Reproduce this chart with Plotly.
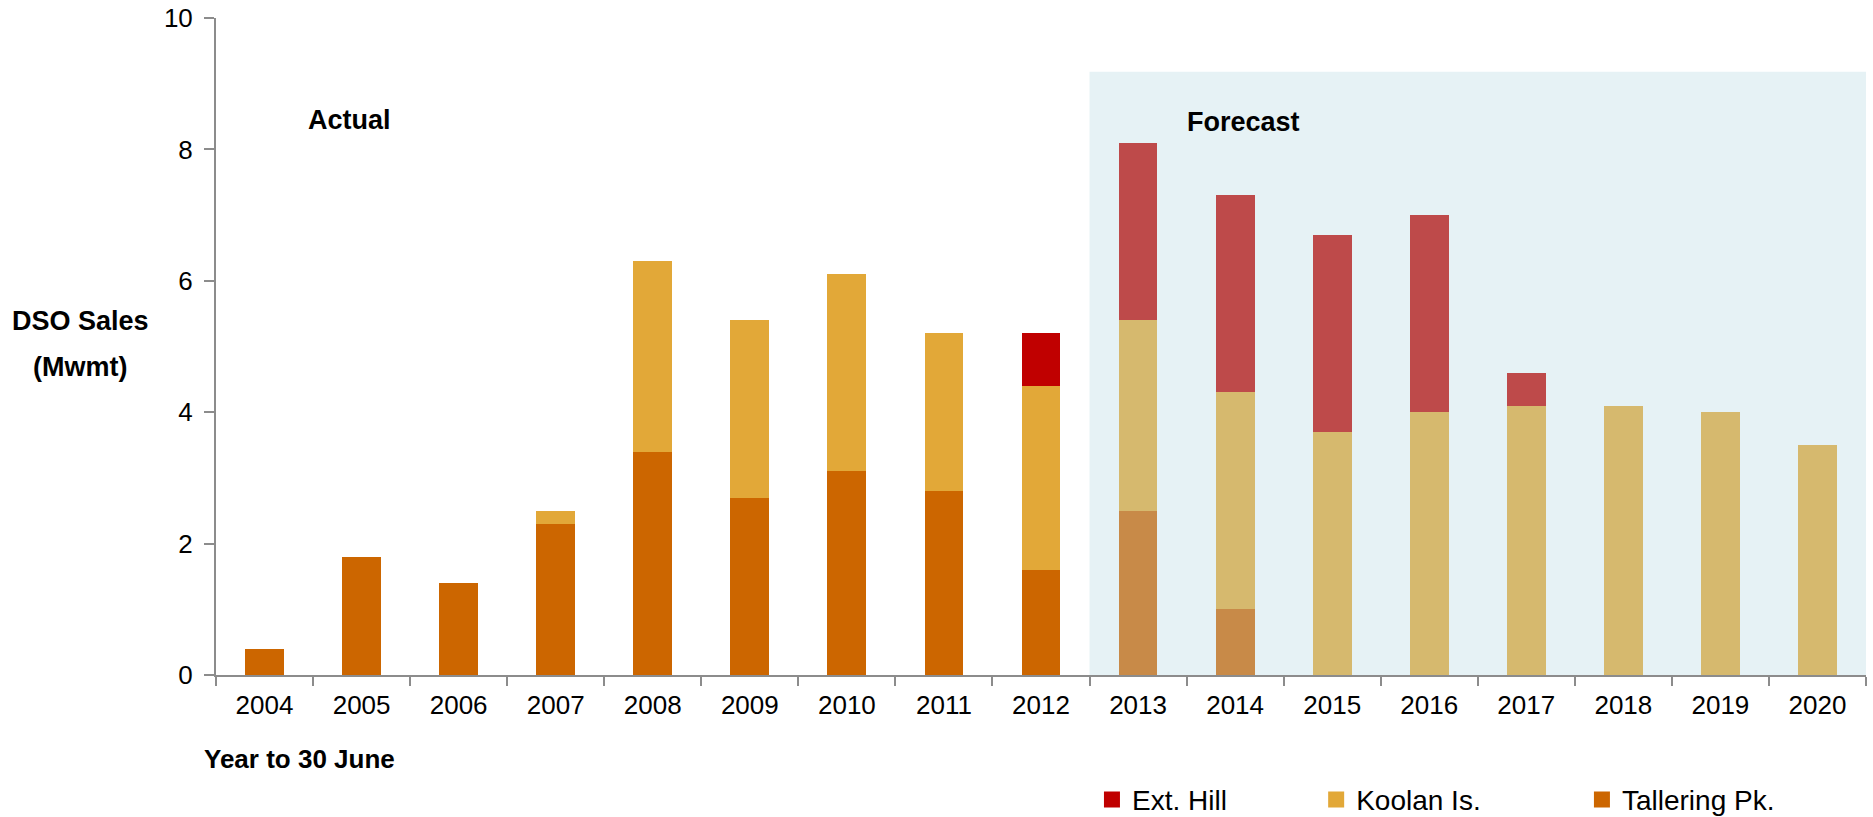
import plotly.graph_objects as go

years = ["2004", "2005", "2006", "2007", "2008", "2009", "2010", "2011", "2012",
         "2013", "2014", "2015", "2016", "2017", "2018", "2019", "2020"]
tallering = [0.4, 1.8, 1.4, 2.3, 3.4, 2.7, 3.1, 2.8, 1.6, 2.5, 1.0, 0, 0, 0, 0, 0, 0]
koolan = [0, 0, 0, 0.2, 2.9, 2.7, 3.0, 2.4, 2.8, 2.9, 3.3, 3.7, 4.0, 4.1, 4.1, 4.0, 3.5]
ext_hill = [0, 0, 0, 0, 0, 0, 0, 0, 0.8, 2.7, 3.0, 3.0, 3.0, 0.5, 0, 0, 0]
forecast_start = "2013"

FONT = "Liberation Sans, Arial, sans-serif"
n_actual = years.index(forecast_start)

def colors(actual, fcst):
    return [actual if i < n_actual else fcst for i in range(len(years))]

def f(size, bold=False):
    return dict(family=FONT, size=size, color="black",
                weight="bold" if bold else "normal")

fig = go.Figure()
series = [
    ("Tallering Pk.", tallering, "#CC6600", "#C88A48", "legend3"),
    ("Koolan Is.", koolan, "#E2A838", "#D6B96E", "legend2"),
    ("Ext. Hill", ext_hill, "#C00000", "#BE4A4A", "legend"),
]
for name, vals, ca, cf, lg in series:
    fig.add_trace(go.Bar(
        x=years, y=vals, name=name,
        marker=dict(color=colors(ca, cf), line=dict(width=0)),
        showlegend=False,
    ))
    fig.add_trace(go.Scatter(
        x=[None], y=[None], mode="markers", name=name,
        marker=dict(symbol="square", size=16, color=ca),
        legend=lg, showlegend=True,
    ))

fig.add_shape(type="rect", xref="x", yref="y", x0=n_actual - 0.5, x1=len(years) - 0.5,
              y0=-0.23, y1=9.18, fillcolor="#E6F2F5", line=dict(width=0), layer="below")

leg_common = dict(orientation="h", yanchor="middle", xanchor="left", y=0.021,
                  xref="container", yref="container",
                  font=f(28), bgcolor="rgba(0,0,0,0)", itemclick=False,
                  itemwidth=30)
fig.update_layout(
    width=1873, height=817,
    margin=dict(l=216, r=7, t=18, b=142, autoexpand=False),
    barmode="stack", bargap=0.6,
    plot_bgcolor="white", paper_bgcolor="white",
    font=f(26),
    legend=dict(x=0.583, **leg_common),
    legend2=dict(x=0.7027, **leg_common),
    legend3=dict(x=0.8446, **leg_common),
    xaxis=dict(type="category", showgrid=False, showline=True, linecolor="#8C8C8C", linewidth=2,
               ticks="outside", tickson="boundaries", ticklen=9, tickcolor="#8C8C8C", tickwidth=2,
               tickfont=f(26), ticklabelstandoff=6, automargin=False,
               range=[-0.5, len(years) - 0.5]),
    yaxis=dict(range=[0, 10], dtick=2, showgrid=False, showline=True, linecolor="#8C8C8C",
               linewidth=2, ticks="outside", ticklen=10, tickcolor="#8C8C8C", tickwidth=2,
               tickfont=f(26), ticklabelstandoff=6, zeroline=False, automargin=False),
    showlegend=True,
)

fig.add_annotation(text="<b>DSO Sales</b>", xref="paper", yref="paper", x=-0.0824, y=0.539,
                   xanchor="center", yanchor="middle", showarrow=False, font=f(27, True))
fig.add_annotation(text="<b>(Mwmt)</b>", xref="paper", yref="paper", x=-0.0824, y=0.469,
                   xanchor="center", yanchor="middle", showarrow=False, font=f(27, True))
fig.add_annotation(text="<b>Year to 30 June</b>", xref="paper", yref="paper", x=-0.0085, y=-0.128,
                   xanchor="left", yanchor="middle", showarrow=False, font=f(26, True))
fig.add_annotation(text="<b>Actual</b>", xref="paper", yref="paper", x=0.0547, y=0.845,
                   xanchor="left", yanchor="middle", showarrow=False, font=f(27, True))
fig.add_annotation(text="<b>Forecast</b>", xref="paper", yref="paper", x=0.587, y=0.842,
                   xanchor="left", yanchor="middle", showarrow=False, font=f(27, True))

fig.write_html("out.html")
